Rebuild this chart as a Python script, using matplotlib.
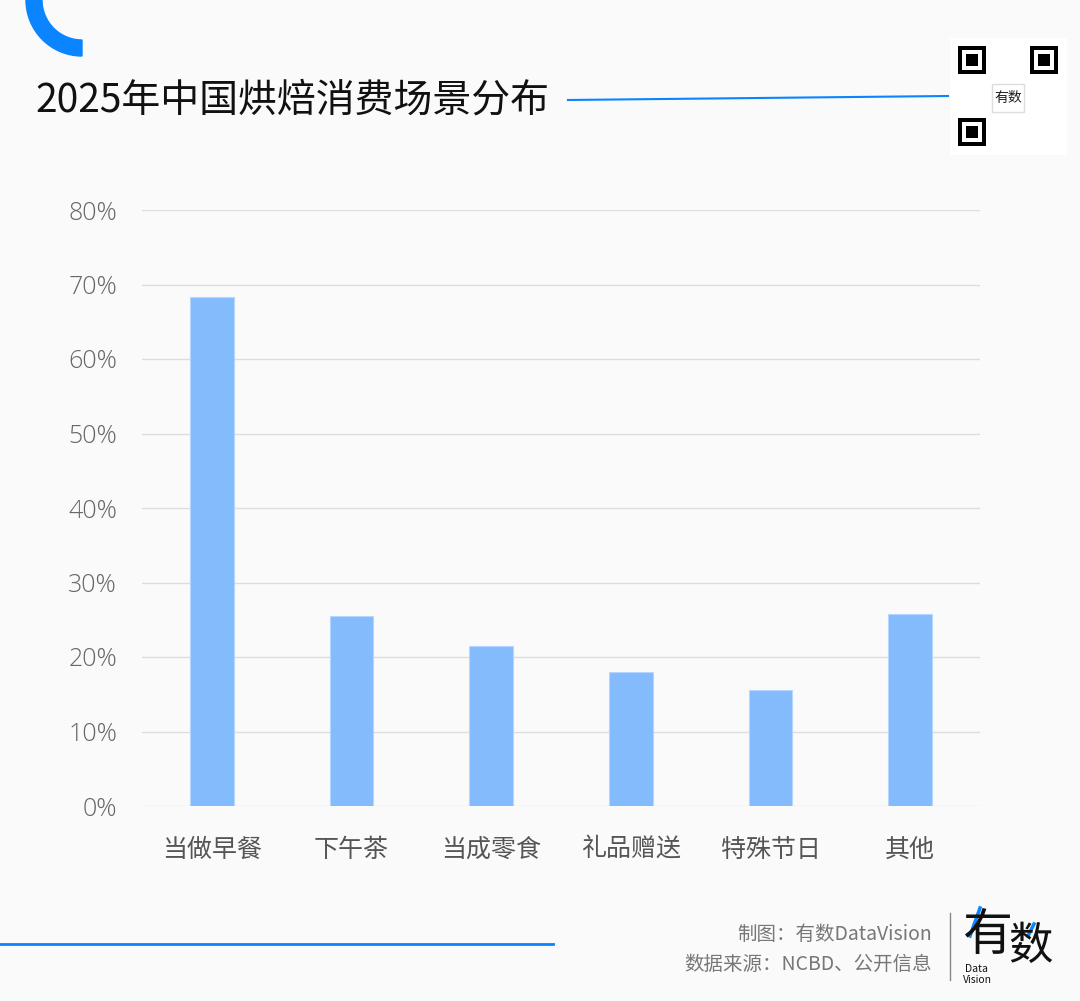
import numpy as np
import matplotlib.pyplot as plt
from matplotlib.patches import Wedge, Rectangle

plt.rcParams['font.family'] = ['Noto Sans CJK SC', 'DejaVu Sans']

# 数据
categories = ['当做早餐', '下午茶', '当成零食', '礼品赠送', '特殊节日', '其他']
values = [68.3, 25.5, 21.5, 18.0, 15.6, 25.8]
y_ticks = [0, 10, 20, 30, 40, 50, 60, 70, 80]
title = '2025年中国烘焙消费场景分布'

W, H = 1080, 1001
BG = '#FAFAFA'
BLUE = '#0A84FF'
BAR = '#84BBFD'

fig = plt.figure(figsize=(W / 100, H / 100), dpi=100, facecolor=BG)

# 背景装饰层 (像素坐标)
deco = fig.add_axes([0, 0, 1, 1])
deco.set_xlim(0, W)
deco.set_ylim(H, 0)
deco.axis('off')
deco.set_facecolor(BG)

# 左上角圆弧
deco.add_patch(Wedge((82, 0), 56, 90, 180, width=16, color=BLUE))

# 标题 + 横线
deco.text(35, 100, title, fontsize=28, color='#111111', va='center', ha='left')
deco.plot([568, 948], [100, 96], color=BLUE, lw=1.5)

# 二维码占位
deco.add_patch(Rectangle((950, 38), 116, 116, color='white', zorder=2))
for (qx, qy) in [(958, 46), (1030, 46), (958, 118)]:
    deco.add_patch(Rectangle((qx, qy), 28, 28, fc='black', zorder=3))
    deco.add_patch(Rectangle((qx + 4, qy + 4), 20, 20, fc='white', zorder=3))
    deco.add_patch(Rectangle((qx + 8, qy + 8), 12, 12, fc='black', zorder=3))
deco.add_patch(Rectangle((992, 84), 32, 28, fc='white', ec='#dddddd', zorder=3))
deco.text(1008, 98, '有数', fontsize=10, ha='center', va='center', color='#222222', zorder=4)

# 底部横线
deco.plot([0, 553], [944, 944], color=BLUE, lw=2)

# 底部文字
deco.text(932, 934, '制图：有数DataVision', fontsize=14, color='#777777', ha='right', va='center')
deco.text(932, 964, '数据来源：NCBD、公开信息', fontsize=14, color='#777777', ha='right', va='center')
deco.plot([950, 950], [913, 980], color='#888888', lw=1)

# Logo
deco.text(987, 936, '有', fontsize=36, color='#111111', ha='center', va='center')
deco.text(1030, 946, '数', fontsize=32, color='#111111', ha='center', va='center')
deco.plot([970, 980], [936, 908], color=BLUE, lw=2.5)
deco.plot([1028, 1034], [936, 924], color=BLUE, lw=2.5)
deco.text(965, 969, 'Data', fontsize=7.5, color='#111111', ha='left', va='center')
deco.text(963, 980, 'Vision', fontsize=7.5, color='#111111', ha='left', va='center')

# 主图
ax = fig.add_axes([142 / W, 1 - 806 / H, (980 - 142) / W, (806 - 210) / H])
ax.set_facecolor('none')
x = np.arange(len(categories))
ax.bar(x, values, width=0.315, color=BAR, edgecolor='#B5D6FF', linewidth=0.8, zorder=3)
ax.set_xlim(-0.5, len(categories) - 0.5)
ax.set_ylim(0, 80)
ax.set_yticks(y_ticks)
ax.set_yticklabels([f'{t}%' for t in y_ticks], family=['Open Sans', 'DejaVu Sans'],
                   fontweight='light')
ax.set_xticks(x)
ax.set_xticklabels(categories)
ax.grid(axis='y', color='#DDDDDD', linewidth=1, zorder=0)
for s in ax.spines.values():
    s.set_visible(False)
ax.tick_params(axis='y', length=0, pad=18, labelsize=18, labelcolor='#666666')
ax.tick_params(axis='x', length=0, pad=22, labelsize=18, labelcolor='#555555')

fig.savefig('out.png', dpi=100, facecolor=BG)
